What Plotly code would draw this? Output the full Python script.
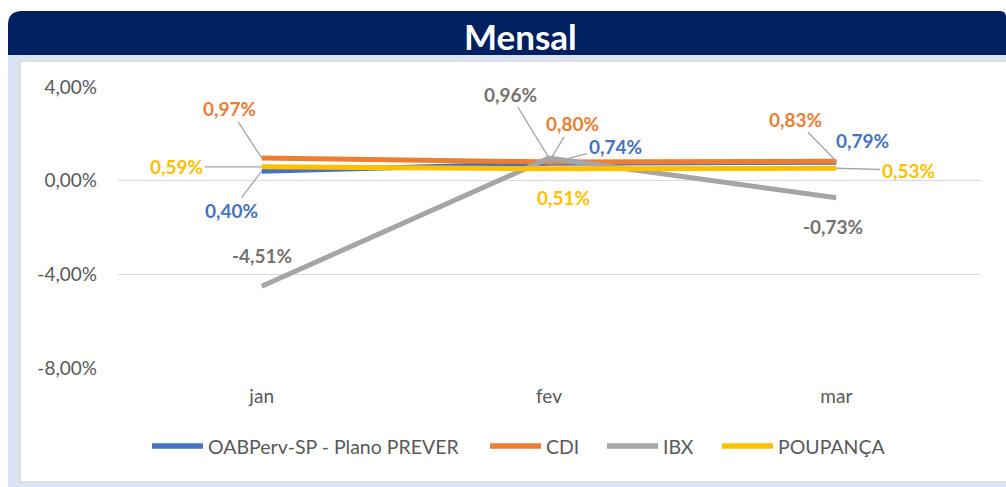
import plotly.graph_objects as go

# ---- data ----
months = ["jan", "fev", "mar"]
oab = [0.40, 0.74, 0.79]
cdi = [0.97, 0.80, 0.83]
ibx = [-4.51, 0.96, -0.73]
poup = [0.59, 0.51, 0.53]
series_names = ["OABPerv-SP - Plano PREVER", "CDI", "IBX", "POUPANÇA"]
y_ticks = [-8, -4, 0, 4]
y_tick_labels = [f"{v:.2f}".replace(".", ",") + "%" for v in y_ticks]

# ---- styles ----
line_colors = ["#4472C4", "#ED7D31", "#A5A5A5", "#FFC000"]
label_colors = ["#4472C4", "#ED7D31", "#767171", "#FFC000"]
# label offsets (px) and whether a leader line is drawn
label_offsets = [
    [(-30, 39, True), (66, -17, True), (26, -22, False)],
    [(-32, -49, True), (23, -38, True), (-41, -42, True)],
    [(0, -31, False), (-39, -64, True), (-3, 29, False)],
    [(-85, 0, True), (14, 29, False), (72, 2, True)],
]
legend_px_x = [152, 490, 607, 722]  # left edge of each legend swatch (px)
legend_px_y = 446
legend_swatch = 51

FONT = "Lato"
W, H = 1006, 487
L, R, T, B = 118, 980, 87, 368  # plot area in px


def px_x(px):
    return (px - L) / (R - L)


def px_y(py):
    return (B - py) / (B - T)


fig = go.Figure()
all_series = [oab, cdi, ibx, poup]
for name, vals, col in zip(series_names, all_series, line_colors):
    fig.add_trace(go.Scatter(x=months, y=vals, name=name, mode="lines",
                             line=dict(color=col, width=5), hoverinfo="skip",
                             showlegend=False))

annotations = []
for vals, col, offs in zip(all_series, label_colors, label_offsets):
    for m, v, (ax, ay, lead) in zip(months, vals, offs):
        annotations.append(dict(
            x=m, y=v, xref="x", yref="y",
            text=f"{v:.2f}".replace(".", ",") + "%",
            showarrow=True, arrowhead=0, arrowwidth=1.3,
            arrowcolor="#A6A6A6" if lead else "rgba(0,0,0,0)",
            ax=ax, ay=ay, standoff=0,
            font=dict(family=FONT, size=19, color=col, weight="bold"),
        ))

# title
annotations.append(dict(
    x=px_x(520), y=px_y(36), xref="paper", yref="paper",
    text="<b>Mensal</b>", showarrow=False,
    font=dict(family=FONT, size=35, color="white"),
    xanchor="center", yanchor="middle"))

shapes = [
    # light blue frame
    dict(type="rect", xref="paper", yref="paper", layer="below",
         x0=px_x(8), x1=px_x(1010), y0=px_y(491), y1=px_y(55),
         fillcolor="#DAE3F3", line=dict(width=0)),
    # white chart box
    dict(type="rect", xref="paper", yref="paper", layer="below",
         x0=px_x(20), x1=px_x(1012), y0=px_y(482), y1=px_y(61),
         fillcolor="white", line=dict(color="#D9D9D9", width=1.5)),
]
# navy title bar with rounded top corners
x0, x1, y0, y1, r = 8, 1006, 11, 55, 14
path = (f"M {px_x(x0)},{px_y(y1)} L {px_x(x0)},{px_y(y0 + r)} "
        f"Q {px_x(x0)},{px_y(y0)} {px_x(x0 + r)},{px_y(y0)} "
        f"L {px_x(x1 - 6)},{px_y(y0)} Q {px_x(x1)},{px_y(y0)} {px_x(x1)},{px_y(y0 + 6)} "
        f"L {px_x(x1)},{px_y(y1)} Z")
shapes.append(dict(type="path", xref="paper", yref="paper", layer="below",
                   path=path, fillcolor="#002060", line=dict(width=0)))

# legend (swatch + text)
for name, col, lx in zip(series_names, line_colors, legend_px_x):
    shapes.append(dict(type="line", xref="paper", yref="paper",
                       x0=px_x(lx), x1=px_x(lx + legend_swatch),
                       y0=px_y(legend_px_y), y1=px_y(legend_px_y),
                       line=dict(color=col, width=5.5)))
    annotations.append(dict(
        x=px_x(lx + legend_swatch + 3), y=px_y(legend_px_y), xref="paper", yref="paper",
        text=name, showarrow=False, xanchor="left", yanchor="middle",
        font=dict(family=FONT, size=19.5, color="#595959")))

fig.update_layout(
    width=W, height=H,
    margin=dict(l=L, r=W - R, t=T, b=H - B),
    paper_bgcolor="white", plot_bgcolor="rgba(0,0,0,0)",
    separators=",.",
    font=dict(family=FONT, color="#595959", size=16),
    showlegend=False,
    annotations=annotations, shapes=shapes,
)
fig.update_xaxes(range=[-0.5, 2.5], showgrid=False, zeroline=False, showline=False,
                 ticks="", tickfont=dict(family=FONT, size=19, color="#595959"),
                 ticklabelstandoff=15)
fig.update_yaxes(range=[-8, 4], tickmode="array", tickvals=y_ticks, ticktext=y_tick_labels,
                 showgrid=True, gridcolor="#D9D9D9", gridwidth=1.3,
                 zeroline=False, showline=False, ticks="",
                 tickfont=dict(family=FONT, size=19, color="#595959"),
                 ticklabelstandoff=20)

fig.write_html("out.html", post_script="document.body.style.margin='0';",
               config={"displayModeBar": False})
